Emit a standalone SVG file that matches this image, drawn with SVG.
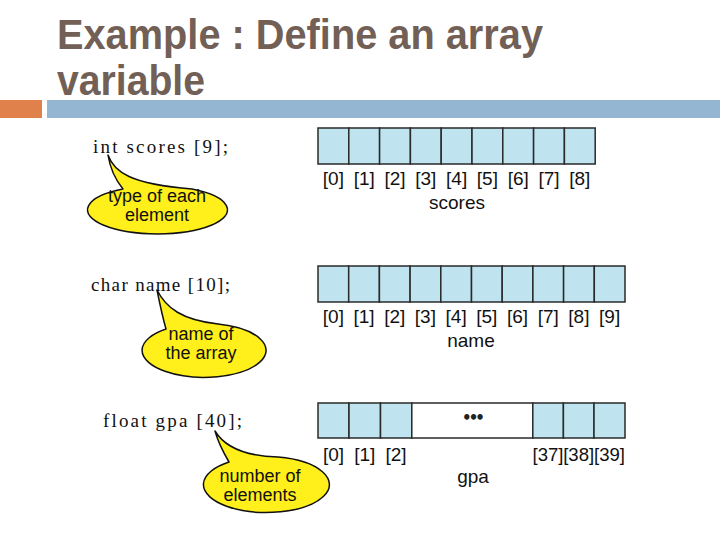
<svg xmlns="http://www.w3.org/2000/svg" width="720" height="540" viewBox="0 0 720 540">
<style>
.title{font-family:"Liberation Sans",Arial,sans-serif;font-weight:bold;font-size:43px;fill:#725f56}
.code{font-family:"Liberation Serif","Times New Roman",serif;font-size:19px;fill:#111}
.idx{font-family:"Liberation Sans",Arial,sans-serif;font-size:19px;fill:#111;text-anchor:middle}
.lbl{font-family:"Liberation Sans",Arial,sans-serif;font-size:19px;fill:#111;text-anchor:middle}
.btxt{font-family:"Liberation Sans",Arial,sans-serif;font-size:18px;fill:#111;text-anchor:middle}
.cell{fill:#bfe3ef;stroke:#2a2a2a;stroke-width:1.5}
.blank{fill:#ffffff;stroke:#2a2a2a;stroke-width:1.5}
.bubble{fill:#ffef1a;stroke:#111;stroke-width:1.5;stroke-linejoin:round}
</style>
<rect width="720" height="540" fill="#ffffff"/>
<g id="title">
<text class="title" x="57" y="49" textLength="486" lengthAdjust="spacingAndGlyphs">Example : Define an array</text>
<text class="title" x="57" y="95" textLength="148" lengthAdjust="spacingAndGlyphs">variable</text>
<rect x="0" y="100" width="42" height="18" fill="#e0804a"/>
<rect x="47" y="100" width="673" height="18" fill="#94b6d2"/>
</g>
<g id="decl-scores">
<text class="code" x="93" y="153" textLength="135" lengthAdjust="spacing">int scores [9];</text>
</g>
<g id="decl-name">
<text class="code" x="91" y="291" textLength="139" lengthAdjust="spacing">char name [10];</text>
</g>
<g id="decl-gpa">
<text class="code" x="103" y="427" textLength="139" lengthAdjust="spacing">float gpa [40];</text>
</g>
<g id="array-scores">
<rect class="cell" x="318" y="128" width="30.8" height="36"/>
<rect class="cell" x="348.8" y="128" width="30.8" height="36"/>
<rect class="cell" x="379.6" y="128" width="30.8" height="36"/>
<rect class="cell" x="410.4" y="128" width="30.8" height="36"/>
<rect class="cell" x="441.2" y="128" width="30.8" height="36"/>
<rect class="cell" x="472" y="128" width="30.8" height="36"/>
<rect class="cell" x="502.8" y="128" width="30.8" height="36"/>
<rect class="cell" x="533.6" y="128" width="30.8" height="36"/>
<rect class="cell" x="564.4" y="128" width="30.8" height="36"/>
<text class="idx" x="333.4" y="185">[0]</text>
<text class="idx" x="364.2" y="185">[1]</text>
<text class="idx" x="395" y="185">[2]</text>
<text class="idx" x="425.8" y="185">[3]</text>
<text class="idx" x="456.6" y="185">[4]</text>
<text class="idx" x="487.4" y="185">[5]</text>
<text class="idx" x="518.2" y="185">[6]</text>
<text class="idx" x="549" y="185">[7]</text>
<text class="idx" x="579.8" y="185">[8]</text>
<text class="lbl" x="457" y="209">scores</text>
</g>
<g id="array-name">
<rect class="cell" x="318" y="266" width="30.7" height="36"/>
<rect class="cell" x="348.7" y="266" width="30.7" height="36"/>
<rect class="cell" x="379.4" y="266" width="30.7" height="36"/>
<rect class="cell" x="410.1" y="266" width="30.7" height="36"/>
<rect class="cell" x="440.8" y="266" width="30.7" height="36"/>
<rect class="cell" x="471.5" y="266" width="30.7" height="36"/>
<rect class="cell" x="502.2" y="266" width="30.7" height="36"/>
<rect class="cell" x="532.9" y="266" width="30.7" height="36"/>
<rect class="cell" x="563.6" y="266" width="30.7" height="36"/>
<rect class="cell" x="594.3" y="266" width="30.7" height="36"/>
<text class="idx" x="333.4" y="323">[0]</text>
<text class="idx" x="364" y="323">[1]</text>
<text class="idx" x="394.7" y="323">[2]</text>
<text class="idx" x="425.4" y="323">[3]</text>
<text class="idx" x="456.1" y="323">[4]</text>
<text class="idx" x="486.8" y="323">[5]</text>
<text class="idx" x="517.5" y="323">[6]</text>
<text class="idx" x="548.2" y="323">[7]</text>
<text class="idx" x="578.9" y="323">[8]</text>
<text class="idx" x="609.6" y="323">[9]</text>
<text class="lbl" x="471" y="347">name</text>
</g>
<g id="array-gpa">
<rect class="cell" x="318" y="403" width="31" height="35"/>
<rect class="cell" x="349" y="403" width="31.5" height="35"/>
<rect class="cell" x="380.5" y="403" width="31.3" height="35"/>
<rect class="blank" x="411.8" y="403" width="121" height="35"/>
<rect class="cell" x="532.8" y="403" width="30.6" height="35"/>
<rect class="cell" x="563.4" y="403" width="30.6" height="35"/>
<rect class="cell" x="594" y="403" width="31" height="35"/>
<text x="472" y="423" text-anchor="middle" style="font-family:'DejaVu Sans',sans-serif;font-size:15px;font-weight:bold;letter-spacing:-3px;fill:#222">•••</text>
<text class="idx" x="333.5" y="461">[0]</text>
<text class="idx" x="364.7" y="461">[1]</text>
<text class="idx" x="396" y="461">[2]</text>
<text class="idx" x="548" y="461" textLength="31" lengthAdjust="spacingAndGlyphs">[37]</text>
<text class="idx" x="578.7" y="461" textLength="31" lengthAdjust="spacingAndGlyphs">[38]</text>
<text class="idx" x="609.5" y="461" textLength="31" lengthAdjust="spacingAndGlyphs">[39]</text>
<text class="lbl" x="473" y="483">gpa</text>
</g>
<g id="bubble-type">
<path class="bubble" d="M 123 189 C 114 178 110 168 108 155 C 114 172 130 184 192 189 A 70 24 0 1 1 123 189 Z"/>
<text class="btxt" x="157" y="202">type of each</text>
<text class="btxt" x="157" y="221">element</text>
</g>
<g id="bubble-name">
<path class="bubble" d="M 166 329 C 162 315 160 305 157 290 C 166 308 182 320 218 324 A 62 27 0 1 1 166 329 Z"/>
<text class="btxt" x="201" y="340">name of</text>
<text class="btxt" x="201" y="359">the array</text>
</g>
<g id="bubble-count">
<path class="bubble" d="M 229 462 C 222 450 218 442 215 431 C 224 446 242 456 278 457 A 63 28 0 1 1 229 462 Z"/>
<text class="btxt" x="260" y="482">number of</text>
<text class="btxt" x="260" y="501">elements</text>
</g>
</svg>
